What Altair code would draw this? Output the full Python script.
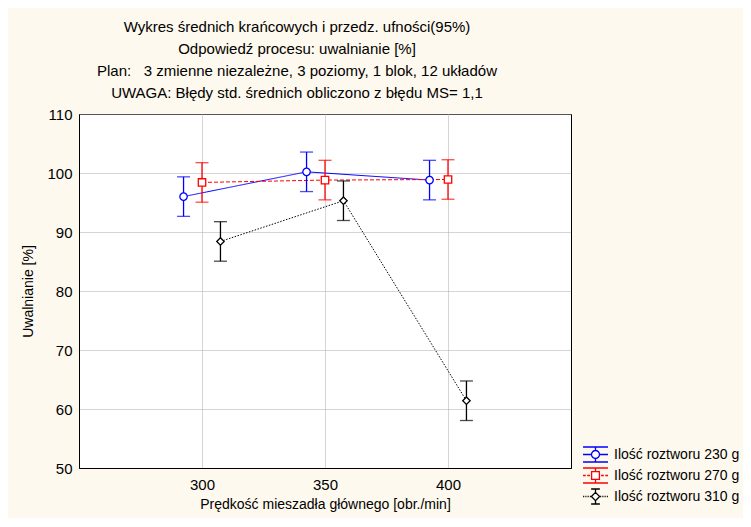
import altair as alt
import pandas as pd

levels = [300, 350, 400]
series = ["Ilość roztworu 230 g", "Ilość roztworu 270 g", "Ilość roztworu 310 g"]
offsets = [-7.5, 0.0, 7.5]
means = {
    "Ilość roztworu 230 g": [96.0, 100.2, 98.8],
    "Ilość roztworu 270 g": [98.4, 98.8, 98.9],
    "Ilość roztworu 310 g": [88.4, 95.3, 61.4],
}
half_ci = 3.35
colors = ["#0000FF", "#FF0000", "#000000"]
shapes = ["circle", "square", "diamond"]
dashes = [[1, 0], [4, 2], [1.5, 1.5]]

rows = []
for s, off in zip(series, offsets):
    for lv, m in zip(levels, means[s]):
        rows.append({"series": s, "x": lv + off, "y": m, "lo": m - half_ci, "hi": m + half_ci})
df = pd.DataFrame(rows)

# legend glyphs: line + error bar + marker (custom symbol paths)
W = 1.28
bar = f"M0,-0.77L0,-0.41M0,0.41L0,0.77M-{W},-0.77L{W},-0.77M-{W},0.77L{W},0.77"
bar_small = "M0,-0.77L0,-0.41M0,0.41L0,0.77M-0.45,-0.77L0.45,-0.77M-0.45,0.77L0.45,0.77"
circle = "M0.41,0A0.41,0.41 0 1,1 -0.41,0A0.41,0.41 0 1,1 0.41,0Z"
square = "M-0.4,-0.4L0.4,-0.4L0.4,0.4L-0.4,0.4Z"
diamond = "M0,-0.42L0.42,0L0,0.42L-0.42,0Z"
solid = f"M-{W},0L-0.41,0M0.41,0L{W},0"
dashed = "M-1.28,0L-1.0,0M-0.85,0L-0.57,0M0.57,0L0.85,0M1.0,0L1.28,0"
dotted = "".join(f"M{x:.2f},0L{x+0.09:.2f},0" for x in [-1.28, -1.1, -0.92, -0.74, -0.56, 0.47, 0.65, 0.83, 1.01, 1.19])
legend_paths = [solid + bar + circle, dashed + bar + square, dotted + bar_small + diamond]

FONT = "Liberation Sans"
xs = alt.Scale(domain=[250, 450], nice=False, zero=False)
ys = alt.Scale(domain=[50, 110], nice=False, zero=False)

X = alt.X("x:Q", scale=xs, title="Prędkość mieszadła głównego [obr./min]",
          axis=alt.Axis(values=levels, grid=True, gridDash=[1, 1], gridColor="#aaaaaa",
                        domainColor="black", tickSize=0, labelPadding=9, titlePadding=5,
                        labelFontSize=15, titleFontSize=14, labelFont=FONT, titleFont=FONT,
                        titleFontWeight="normal", labelColor="black", titleColor="black"))
Y = alt.Y("y:Q", scale=ys, title="Uwalnianie [%]",
          axis=alt.Axis(values=[50, 60, 70, 80, 90, 100, 110], grid=True, gridDash=[1, 1],
                        gridColor="#aaaaaa", domainColor="black", tickSize=0, labelPadding=7,
                        titlePadding=11, labelFontSize=15, titleFontSize=14, labelFont=FONT,
                        titleFont=FONT, titleFontWeight="normal", labelColor="black",
                        titleColor="black"))

base = alt.Chart(df)
layers = []
for i, (s, c, shp, dash) in enumerate(zip(series, colors, shapes, dashes)):
    sub = base.transform_filter(alt.datum.series == s)
    if i == 0:
        layers.append(sub.mark_line(color=c, strokeDash=dash, strokeWidth=1).encode(x=X, y=Y))
    else:
        layers.append(sub.mark_line(color=c, strokeDash=dash, strokeWidth=1).encode(x="x:Q", y="y:Q"))
for s, c, shp, dash in zip(series, colors, shapes, dashes):
    sub = base.transform_filter(alt.datum.series == s)
    layers.append(sub.mark_rule(color=c, strokeWidth=1.3).encode(x="x:Q", y="lo:Q", y2="hi:Q"))
    layers.append(sub.mark_tick(color=c, orient="horizontal", size=13, thickness=1.3).encode(x="x:Q", y="lo:Q"))
    layers.append(sub.mark_tick(color=c, orient="horizontal", size=13, thickness=1.3).encode(x="x:Q", y="hi:Q"))
    layers.append(sub.mark_point(shape=shp, color=c, fill="white", fillOpacity=1, filled=False,
                                 size=55, strokeWidth=1.3, opacity=1).encode(x="x:Q", y="y:Q"))

leg = alt.Legend(orient="none", legendX=506, legendY=330, padding=0, labelFontSize=14,
                 labelFont=FONT, labelColor="black", rowPadding=0, title=None, labelOffset=8,
                 symbolSize=380, symbolStrokeWidth=1.3, labelLimit=300,
                 symbolFillColor="white", symbolOpacity=1)
legend_layer = base.transform_filter("false").mark_point(
    size=380, strokeWidth=1.3, filled=False, fill="white", fillOpacity=1, opacity=1).encode(
    x="x:Q", y="y:Q",
    color=alt.Color("series:N", scale=alt.Scale(domain=series, range=colors), legend=leg),
    shape=alt.Shape("series:N", scale=alt.Scale(domain=series, range=legend_paths), legend=leg),
)
layers.append(legend_layer)

chart = alt.layer(*layers).properties(
    width=492, height=354,
    background="#FEF9EE",
    padding={"left": 71, "top": 106, "right": 172, "bottom": 50},
    autosize=alt.AutoSizeParams(type="none"),
    title=alt.TitleParams(
        text=["Wykres średnich krańcowych i przedz. ufności(95%)",
              "Odpowiedź procesu: uwalnianie [%]",
              "Plan:\u00a0\u00a0 3 zmienne niezależne, 3 poziomy, 1 blok, 12 układów",
              "UWAGA: Błędy std. średnich obliczono z błędu MS= 1,1"],
        font=FONT, fontSize=15, fontWeight="normal", color="black", lineHeight=22,
        anchor="middle", dx=-28, offset=6,
    ),
).configure_view(stroke="black", strokeWidth=1, fill="white")

chart.save("out.html", embed_options={"renderer": "svg", "actions": False})
